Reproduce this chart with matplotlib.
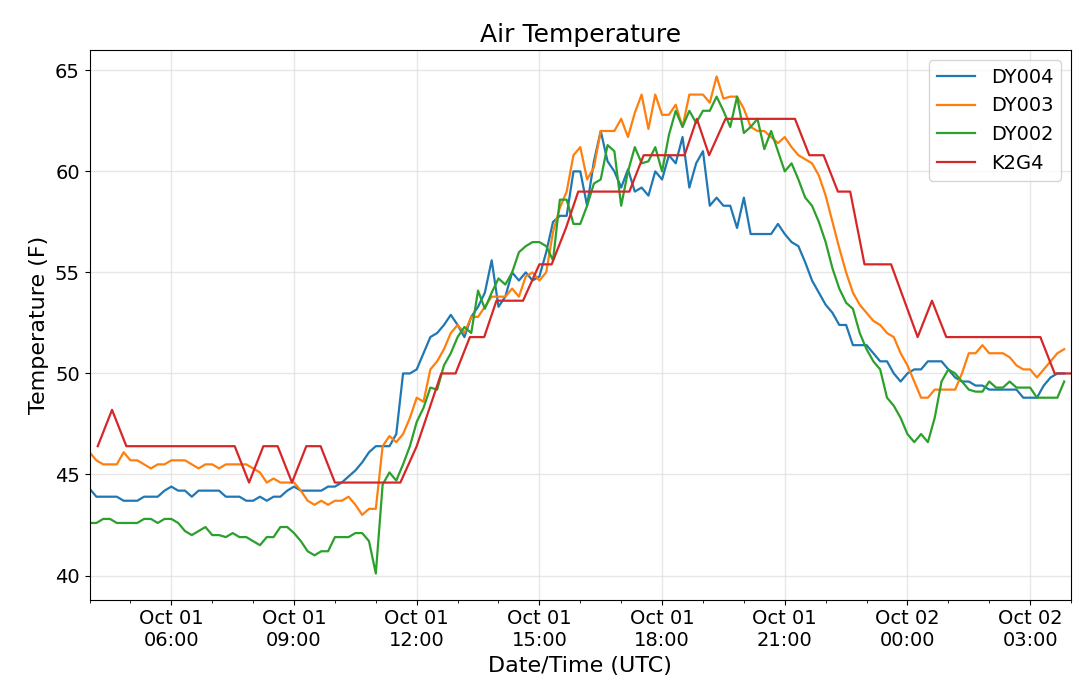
import matplotlib
matplotlib.use("Agg")
import matplotlib.pyplot as plt
import matplotlib.dates as mdates
import numpy as np
import pandas as pd

start = pd.Timestamp("2019-10-01 04:00")
times = pd.date_range(start, periods=144, freq="10min")

dy004 = [44.3, 43.9, 43.9, 43.9, 43.9, 43.7,
         43.7, 43.7, 43.9, 43.9, 43.9, 44.2,
         44.4, 44.2, 44.2, 43.9, 44.2, 44.2,
         44.2, 44.2, 43.9, 43.9, 43.9, 43.7,
         43.7, 43.9, 43.7, 43.9, 43.9, 44.2,
         44.4, 44.2, 44.2, 44.2, 44.2, 44.4,
         44.4, 44.6, 44.9, 45.2, 45.6, 46.1,
         46.4, 46.4, 46.4, 47.0, 50.0, 50.0,
         50.2, 51.0, 51.8, 52.0, 52.4, 52.9,
         52.4, 51.8, 52.8, 53.3, 54.0, 55.6,
         53.3, 53.8, 55.0, 54.6, 55.0, 54.6,
         54.8, 56.0, 57.5, 57.8, 57.8, 60.0,
         60.0, 58.3, 60.5, 62.0, 60.5, 60.0,
         59.2, 60.1, 59.0, 59.2, 58.8, 60.0,
         59.6, 60.8, 60.4, 61.7, 59.2, 60.4,
         61.0, 58.3, 58.7, 58.3, 58.3, 57.2,
         58.7, 56.9, 56.9, 56.9, 56.9, 57.4,
         56.9, 56.5, 56.3, 55.5, 54.6, 54.0,
         53.4, 53.0, 52.4, 52.4, 51.4, 51.4,
         51.4, 51.0, 50.6, 50.6, 50.0, 49.6,
         50.0, 50.2, 50.2, 50.6, 50.6, 50.6,
         50.2, 49.8, 49.6, 49.6, 49.4, 49.4,
         49.2, 49.2, 49.2, 49.2, 49.2, 48.8,
         48.8, 48.8, 49.4, 49.8, 50.0, 50.0]

dy003 = [46.1, 45.7, 45.5, 45.5, 45.5, 46.1,
         45.7, 45.7, 45.5, 45.3, 45.5, 45.5,
         45.7, 45.7, 45.7, 45.5, 45.3, 45.5,
         45.5, 45.3, 45.5, 45.5, 45.5, 45.5,
         45.3, 45.1, 44.6, 44.8, 44.6, 44.6,
         44.6, 44.2, 43.7, 43.5, 43.7, 43.5,
         43.7, 43.7, 43.9, 43.5, 43.0, 43.3,
         43.3, 46.4, 46.9, 46.6, 47.0, 47.8,
         48.8, 48.6, 50.2, 50.6, 51.2, 52.0,
         52.4, 52.0, 52.8, 52.8, 53.3, 53.8,
         53.8, 53.8, 54.2, 53.8, 54.8, 55.0,
         54.6, 55.0, 57.0, 58.2, 59.0, 60.8,
         61.2, 59.6, 60.2, 62.0, 62.0, 62.0,
         62.6, 61.7, 62.9, 63.8, 62.1, 63.8,
         62.8, 62.8, 63.3, 62.2, 63.8, 63.8,
         63.8, 63.4, 64.7, 63.6, 63.7, 63.7,
         63.1, 62.2, 62.0, 62.0, 61.7, 61.4,
         61.7, 61.2, 60.8, 60.6, 60.4, 59.8,
         58.8, 57.5, 56.2, 55.0, 54.0, 53.4,
         53.0, 52.6, 52.4, 52.0, 51.8, 51.0,
         50.4, 49.6, 48.8, 48.8, 49.2, 49.2,
         49.2, 49.2, 50.0, 51.0, 51.0, 51.4,
         51.0, 51.0, 51.0, 50.8, 50.4, 50.2,
         50.2, 49.8, 50.2, 50.6, 51.0, 51.2]

dy002 = [42.6, 42.6, 42.8, 42.8, 42.6, 42.6,
         42.6, 42.6, 42.8, 42.8, 42.6, 42.8,
         42.8, 42.6, 42.2, 42.0, 42.2, 42.4,
         42.0, 42.0, 41.9, 42.1, 41.9, 41.9,
         41.7, 41.5, 41.9, 41.9, 42.4, 42.4,
         42.1, 41.7, 41.2, 41.0, 41.2, 41.2,
         41.9, 41.9, 41.9, 42.1, 42.1, 41.7,
         40.1, 44.5, 45.1, 44.7, 45.5, 46.4,
         47.6, 48.3, 49.3, 49.2, 50.4, 51.0,
         51.8, 52.3, 52.0, 54.1, 53.2, 54.0,
         54.7, 54.4, 55.0, 56.0, 56.3, 56.5,
         56.5, 56.3, 55.6, 58.6, 58.6, 57.4,
         57.4, 58.3, 59.4, 59.6, 61.3, 61.0,
         58.3, 60.0, 61.2, 60.4, 60.5, 61.2,
         60.0, 61.8, 63.0, 62.2, 63.0, 62.4,
         63.0, 63.0, 63.7, 63.0, 62.2, 63.7,
         61.9, 62.2, 62.6, 61.1, 62.0, 61.0,
         60.0, 60.4, 59.6, 58.7, 58.3, 57.5,
         56.5, 55.2, 54.2, 53.5, 53.2, 52.0,
         51.2, 50.6, 50.2, 48.8, 48.4, 47.8,
         47.0, 46.6, 47.0, 46.6, 47.8, 49.6,
         50.2, 50.0, 49.6, 49.2, 49.1, 49.1,
         49.6, 49.3, 49.3, 49.6, 49.3, 49.3,
         49.3, 48.8, 48.8, 48.8, 48.8, 49.6]

# K2G4 reports on its own (irregular) schedule: hours after 04:00 UTC
k2g4_hours = [0.2, 0.55, 0.9, 3.55, 3.9, 4.25, 4.6, 4.95, 5.3, 5.65, 6.0, 7.6,
              8.0, 8.3, 8.6, 8.95, 9.3, 9.65, 9.95, 10.6, 11.0, 11.3, 11.65,
              11.95, 13.2, 13.55, 14.55, 14.85, 15.15, 15.55, 17.25, 17.6,
              17.95, 18.3, 18.6, 18.95, 19.6, 20.25, 20.6, 20.95, 23.25, 23.6, 24.0]
k2g4 = [46.4, 48.2, 46.4, 46.4, 44.6, 46.4, 46.4, 44.6, 46.4, 46.4, 44.6, 44.6,
        46.4, 48.2, 50.0, 50.0, 51.8, 51.8, 53.6, 53.6, 55.4, 55.4, 57.2,
        59.0, 59.0, 60.8, 60.8, 62.6, 60.8, 62.6, 62.6, 60.8,
        60.8, 59.0, 59.0, 55.4, 55.4, 51.8, 53.6, 51.8, 51.8, 50.0, 50.0]
k2g4_times = [start + pd.Timedelta(hours=h) for h in k2g4_hours]

fig = plt.figure(figsize=(10.79, 6.87), dpi=100)
ax = fig.add_axes([0.083, 0.127, 0.9096, 0.8])

ax.plot(times, dy004, color="#1f77b4", lw=1.6, label="DY004")
ax.plot(times, dy003, color="#ff7f0e", lw=1.6, label="DY003")
ax.plot(times, dy002, color="#2ca02c", lw=1.6, label="DY002")
ax.plot(k2g4_times, k2g4, color="#d62728", lw=1.6, label="K2G4")

ax.set_xlim(start, start + pd.Timedelta(hours=24))
ax.set_ylim(38.8, 66.0)
ax.set_yticks([40, 45, 50, 55, 60, 65])
ax.xaxis.set_major_locator(mdates.HourLocator(byhour=[0, 3, 6, 9, 12, 15, 18, 21]))
ax.xaxis.set_major_formatter(mdates.DateFormatter("%b %d\n%H:%M"))
ax.xaxis.set_minor_locator(mdates.HourLocator())
ax.tick_params(labelsize=14)
ax.grid(True, color="#dddddd", lw=1, alpha=0.7)
ax.set_title("Air Temperature", fontsize=18)
ax.set_xlabel("Date/Time (UTC)", fontsize=16)
ax.set_ylabel("Temperature (F)", fontsize=16)
ax.legend(loc="upper right", fontsize=14)

fig.savefig("out.png", dpi=100)
